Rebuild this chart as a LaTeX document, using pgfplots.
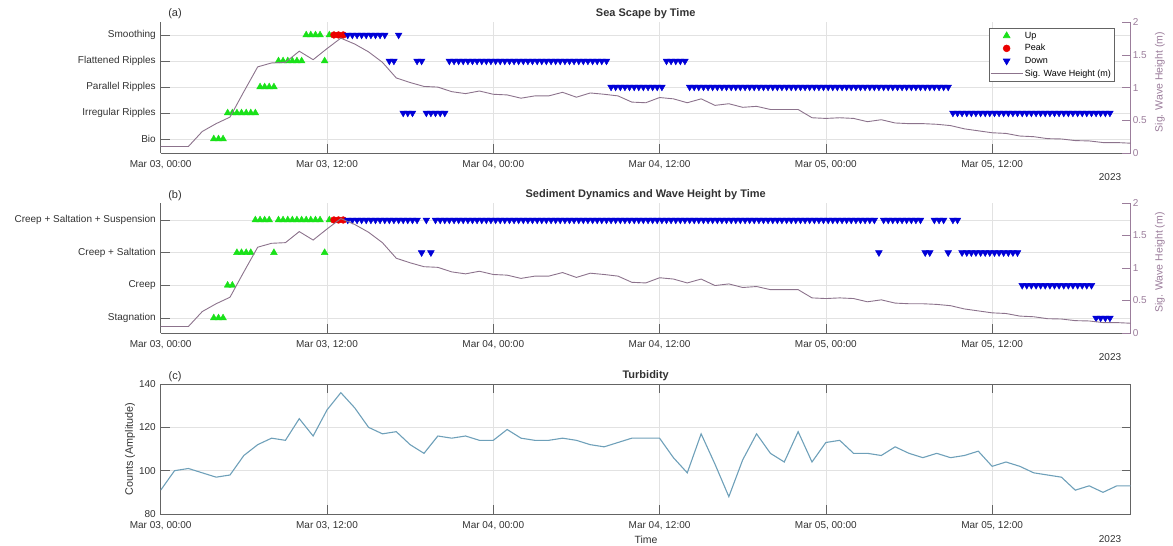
\documentclass[border=0pt]{standalone}
\usepackage{fontspec}
\setmainfont{Liberation Sans}
\usepackage{pgfplots}
\pgfplotsset{compat=1.18}
\definecolor{axgray}{RGB}{100,100,100}
\definecolor{txtgray}{RGB}{50,50,50}
\definecolor{gridgray}{RGB}{226,226,226}
\definecolor{wave}{RGB}{140,115,140}
\definecolor{waveax}{RGB}{155,125,155}
\definecolor{upgreen}{RGB}{25,225,25}
\definecolor{peakred}{RGB}{235,0,0}
\definecolor{downblue}{RGB}{0,0,215}
\definecolor{turb}{RGB}{110,160,185}
\pgfplotsset{
  base/.style={
    scale only axis, width=970pt, anchor=south west,
    xmin=0, xmax=70,
    tick align=inside, major tick length=9pt,
    every tick/.style={axgray, line width=0.6pt},
    axis line style={axgray, line width=0.7pt},
    tick label style={font=\fontsize{10}{12}\selectfont, text=txtgray},
    xticklabel style={yshift=-4pt},
    yticklabel style={xshift=-1.4pt},
    xtick={0,12,24,36,48,60},
    xticklabels={{Mar 03, 00:00},{Mar 03, 12:00},{Mar 04, 00:00},{Mar 04, 12:00},{Mar 05, 00:00},{Mar 05, 12:00}},
    grid style={gridgray, line width=0.6pt},
  },
  catax/.style={base,
    axis x line*=bottom, axis y line*=left,
    every outer x axis line/.append style={-}, every outer y axis line/.append style={-},
    xmajorgrids, ymajorgrids,
    legend image code/.code={\draw[mark repeat=2,mark phase=2,##1] plot coordinates {(0pt,0pt) (16pt,0pt) (32pt,0pt)};},
  },
  wavax/.style={base,
    axis x line=none, xtick=\empty, axis y line*=right,
    every outer y axis line/.append style={-},
    ymin=0, ymax=2, ytick={0,0.5,1,1.5,2}, yticklabels={0,0.5,1,1.5,2},
    y axis line style={waveax}, ytick style={waveax}, yticklabel style={text=waveax},
  },
  upm/.style={only marks, mark=triangle*, mark size=3.9pt, color=upgreen},
  peakm/.style={only marks, mark=*, mark size=3.4pt, color=peakred},
  downm/.style={only marks, mark=triangle*, mark size=3.9pt, color=downblue, mark options={rotate=180}},
}
\begin{document}
\begin{tikzpicture}
\useasboundingbox (0pt,0pt) rectangle (1173pt,546pt);
% ---------------- (a) ----------------
\begin{axis}[catax, at={(160.7pt,393pt)}, height=130.5pt,
  ymin=0.46, ymax=5.48, ytick={1,2,3,4,5},
  yticklabels={Bio,Irregular Ripples,Parallel Ripples,Flattened Ripples,Smoothing},
  legend style={at={(0.983,0.958)}, anchor=north east, draw=axgray, line width=0.6pt, fill=white,
    font=\fontsize{9}{10}\selectfont, inner sep=1.2pt, row sep=0pt,
    nodes={inner sep=1.8pt, text height=7pt, text depth=2pt}},
  legend cell align=left]
\addplot[upm] coordinates {(3.83,1)(4.17,1)(4.5,1)(4.83,2)(5.17,2)(5.5,2)(5.83,2)(6.17,2)(6.5,2)(6.83,2)(7.17,3)(7.5,3)(7.83,3)(8.17,3)(8.5,4)(8.83,4)(9.17,4)(9.5,4)(9.83,4)(10.17,4)(10.5,5)(10.83,5)(11.17,5)(11.5,5)(11.83,4)(12.17,5)};
\addlegendentry{Up}
\addplot[peakm] coordinates {(12.5,5)(12.83,5)(13.17,5)};
\addlegendentry{Peak}
\addplot[downm] coordinates {
(13.5,5)(13.83,5)(14.17,5)(14.5,5)(14.83,5)(15.17,5)(15.5,5)(15.83,5)(16.17,5)
(16.5,4)(16.83,4)(17.17,5)(17.5,2)(17.83,2)(18.17,2)(18.5,4)(18.83,4)
(19.17,2)(19.5,2)(19.83,2)(20.17,2)(20.5,2)
(20.83,4)(21.17,4)(21.5,4)(21.83,4)(22.17,4)(22.5,4)(22.83,4)(23.17,4)(23.5,4)(23.83,4)(24.17,4)(24.5,4)(24.83,4)(25.17,4)(25.5,4)(25.83,4)(26.17,4)(26.5,4)(26.83,4)(27.17,4)(27.5,4)(27.83,4)(28.17,4)(28.5,4)(28.83,4)(29.17,4)(29.5,4)(29.83,4)(30.17,4)(30.5,4)(30.83,4)(31.17,4)(31.5,4)(31.83,4)(32.17,4)
(32.5,3)(32.83,3)(33.17,3)(33.5,3)(33.83,3)(34.17,3)(34.5,3)(34.83,3)(35.17,3)(35.5,3)(35.83,3)(36.17,3)
(36.5,4)(36.83,4)(37.17,4)(37.5,4)(37.83,4)
(38.17,3)(38.5,3)(38.83,3)(39.17,3)(39.5,3)(39.83,3)(40.17,3)(40.5,3)(40.83,3)(41.17,3)(41.5,3)(41.83,3)(42.17,3)(42.5,3)(42.83,3)(43.17,3)(43.5,3)(43.83,3)(44.17,3)(44.5,3)(44.83,3)(45.17,3)(45.5,3)(45.83,3)(46.17,3)(46.5,3)(46.83,3)(47.17,3)(47.5,3)(47.83,3)(48.17,3)(48.5,3)(48.83,3)(49.17,3)(49.5,3)(49.83,3)(50.17,3)(50.5,3)(50.83,3)(51.17,3)(51.5,3)(51.83,3)(52.17,3)(52.5,3)(52.83,3)(53.17,3)(53.5,3)(53.83,3)(54.17,3)(54.5,3)(54.83,3)(55.17,3)(55.5,3)(55.83,3)(56.17,3)(56.5,3)(56.83,3)
(57.17,2)(57.5,2)(57.83,2)(58.17,2)(58.5,2)(58.83,2)(59.17,2)(59.5,2)(59.83,2)(60.17,2)(60.5,2)(60.83,2)(61.17,2)(61.5,2)(61.83,2)(62.17,2)(62.5,2)(62.83,2)(63.17,2)(63.5,2)(63.83,2)(64.17,2)(64.5,2)(64.83,2)(65.17,2)(65.5,2)(65.83,2)(66.17,2)(66.5,2)(66.83,2)(67.17,2)(67.5,2)(67.83,2)(68.17,2)(68.5,2)};
\addlegendentry{Down}
\addlegendimage{wave, line width=0.9pt}
\addlegendentry{Sig. Wave Height (m)}
\end{axis}
\begin{axis}[wavax, at={(160.7pt,393pt)}, height=130.5pt]
\addplot[wave, line width=0.9pt] coordinates {(0,0.10)(1,0.10)(2,0.10)(3,0.33)(4,0.45)(5,0.55)(6,0.94)(7,1.32)(8,1.38)(9,1.39)(10,1.56)(11,1.43)(12,1.60)(13,1.76)(14,1.67)(15,1.55)(16,1.39)(17,1.15)(18,1.08)(19,1.02)(20,1.01)(21,0.94)(22,0.91)(23,0.95)(24,0.90)(25,0.89)(26,0.84)(27,0.875)(28,0.875)(29,0.93)(30,0.855)(31,0.92)(32,0.90)(33,0.875)(34,0.78)(35,0.77)(36,0.85)(37,0.83)(38,0.77)(39,0.83)(40,0.73)(41,0.755)(42,0.70)(43,0.715)(44,0.667)(45,0.667)(46,0.667)(47,0.54)(48,0.53)(49,0.54)(50,0.53)(51,0.48)(52,0.51)(53,0.46)(54,0.45)(55,0.45)(56,0.44)(57,0.42)(58,0.37)(59,0.34)(60,0.31)(61,0.30)(62,0.26)(63,0.25)(64,0.22)(65,0.215)(66,0.19)(67,0.185)(68,0.16)(69,0.16)(70,0.15)};
\end{axis}
% ---------------- (b) ----------------
\begin{axis}[catax, at={(160.7pt,213pt)}, height=130pt,
  ymin=0.54, ymax=4.52, ytick={1,2,3,4},
  yticklabels={Stagnation,Creep,Creep + Saltation,Creep + Saltation + Suspension}]
\addplot[upm] coordinates {(3.83,1)(4.17,1)(4.5,1)(4.83,2)(5.17,2)(5.5,3)(5.83,3)(6.17,3)(6.5,3)(6.83,4)(7.17,4)(7.5,4)(7.83,4)(8.17,3)(8.5,4)(8.83,4)(9.17,4)(9.5,4)(9.83,4)(10.17,4)(10.5,4)(10.83,4)(11.17,4)(11.5,4)(11.83,3)(12.17,4)};
\addplot[peakm] coordinates {(12.5,4)(12.83,4)(13.17,4)};
\addplot[downm] coordinates {
(13.5,4)(13.83,4)(14.17,4)(14.5,4)(14.83,4)(15.17,4)(15.5,4)(15.83,4)(16.17,4)(16.5,4)(16.83,4)(17.17,4)(17.5,4)(17.83,4)(18.17,4)(18.5,4)
(18.83,3)(19.17,4)(19.5,3)
(19.83,4)(20.17,4)(20.5,4)(20.83,4)(21.17,4)(21.5,4)(21.83,4)(22.17,4)(22.5,4)(22.83,4)(23.17,4)(23.5,4)(23.83,4)(24.17,4)(24.5,4)(24.83,4)(25.17,4)(25.5,4)(25.83,4)(26.17,4)(26.5,4)(26.83,4)(27.17,4)(27.5,4)(27.83,4)(28.17,4)(28.5,4)(28.83,4)(29.17,4)(29.5,4)(29.83,4)(30.17,4)(30.5,4)(30.83,4)(31.17,4)(31.5,4)(31.83,4)(32.17,4)(32.5,4)(32.83,4)(33.17,4)(33.5,4)(33.83,4)(34.17,4)(34.5,4)(34.83,4)(35.17,4)(35.5,4)(35.83,4)(36.17,4)(36.5,4)(36.83,4)(37.17,4)(37.5,4)(37.83,4)(38.17,4)(38.5,4)(38.83,4)(39.17,4)(39.5,4)(39.83,4)(40.17,4)(40.5,4)(40.83,4)(41.17,4)(41.5,4)(41.83,4)(42.17,4)(42.5,4)(42.83,4)(43.17,4)(43.5,4)(43.83,4)(44.17,4)(44.5,4)(44.83,4)(45.17,4)(45.5,4)(45.83,4)(46.17,4)(46.5,4)(46.83,4)(47.17,4)(47.5,4)(47.83,4)(48.17,4)(48.5,4)(48.83,4)(49.17,4)(49.5,4)(49.83,4)(50.17,4)(50.5,4)(50.83,4)(51.17,4)(51.5,4)
(51.83,3)
(52.17,4)(52.5,4)(52.83,4)(53.17,4)(53.5,4)(53.83,4)(54.17,4)(54.5,4)(54.83,4)
(55.17,3)(55.5,3)(55.83,4)(56.17,4)(56.5,4)(56.83,3)(57.17,4)(57.5,4)
(57.83,3)(58.17,3)(58.5,3)(58.83,3)(59.17,3)(59.5,3)(59.83,3)(60.17,3)(60.5,3)(60.83,3)(61.17,3)(61.5,3)(61.83,3)
(62.17,2)(62.5,2)(62.83,2)(63.17,2)(63.5,2)(63.83,2)(64.17,2)(64.5,2)(64.83,2)(65.17,2)(65.5,2)(65.83,2)(66.17,2)(66.5,2)(66.83,2)(67.17,2)
(67.5,1)(67.83,1)(68.17,1)(68.5,1)};
\end{axis}
\begin{axis}[wavax, at={(160.7pt,213pt)}, height=130pt]
\addplot[wave, line width=0.9pt] coordinates {(0,0.10)(1,0.10)(2,0.10)(3,0.33)(4,0.45)(5,0.55)(6,0.94)(7,1.32)(8,1.38)(9,1.39)(10,1.56)(11,1.43)(12,1.60)(13,1.76)(14,1.67)(15,1.55)(16,1.39)(17,1.15)(18,1.08)(19,1.02)(20,1.01)(21,0.94)(22,0.91)(23,0.95)(24,0.90)(25,0.89)(26,0.84)(27,0.875)(28,0.875)(29,0.93)(30,0.855)(31,0.92)(32,0.90)(33,0.875)(34,0.78)(35,0.77)(36,0.85)(37,0.83)(38,0.77)(39,0.83)(40,0.73)(41,0.755)(42,0.70)(43,0.715)(44,0.667)(45,0.667)(46,0.667)(47,0.54)(48,0.53)(49,0.54)(50,0.53)(51,0.48)(52,0.51)(53,0.46)(54,0.45)(55,0.45)(56,0.44)(57,0.42)(58,0.37)(59,0.34)(60,0.31)(61,0.30)(62,0.26)(63,0.25)(64,0.22)(65,0.215)(66,0.19)(67,0.185)(68,0.16)(69,0.16)(70,0.15)};
\end{axis}
% ---------------- (c) ----------------
\begin{axis}[base, at={(160.7pt,32pt)}, height=130pt, tick pos=both,
  ymin=80, ymax=140, ytick={80,100,120,140}, yticklabels={80,100,120,140},
  xmajorgrids, ymajorgrids]
\addplot[turb, line width=1.1pt] coordinates {(0,91)(1,100)(2,101)(3,99)(4,97)(5,98)(6,107)(7,112)(8,115)(9,114)(10,124)(11,116)(12,128)(13,136)(14,129)(15,120)(16,117)(17,118)(18,112)(19,108)(20,116)(21,115)(22,116)(23,114)(24,114)(25,119)(26,115)(27,114)(28,114)(29,115)(30,114)(31,112)(32,111)(33,113)(34,115)(35,115)(36,115)(37,106)(38,99)(39,117)(40,103)(41,88)(42,105)(43,117)(44,108)(45,104)(46,118)(47,104)(48,113)(49,114)(50,108)(51,108)(52,107)(53,111)(54,108)(55,106)(56,108)(57,106)(58,107)(59,109)(60,102)(61,104)(62,102)(63,99)(64,98)(65,97)(66,91)(67,93)(68,90)(69,93)(70,93)};
\end{axis}
% ---------------- text ----------------
\begin{scope}[every node/.style={text=txtgray}]
\node[font=\fontsize{11}{13}\selectfont\bfseries] at (645.7pt,532pt) {Sea Scape by Time};
\node[font=\fontsize{11}{13}\selectfont\bfseries] at (645.7pt,351pt) {Sediment Dynamics and Wave Height by Time};
\node[font=\fontsize{11}{13}\selectfont\bfseries] at (645.7pt,170.3pt) {Turbidity};
\node[font=\fontsize{11}{13}\selectfont] at (175pt,532pt) {(a)};
\node[font=\fontsize{11}{13}\selectfont] at (175pt,350pt) {(b)};
\node[font=\fontsize{11}{13}\selectfont] at (175pt,169.3pt) {(c)};
\node[font=\fontsize{10}{12}\selectfont] at (1110pt,369pt) {2023};
\node[font=\fontsize{10}{12}\selectfont] at (1110pt,189pt) {2023};
\node[font=\fontsize{10}{12}\selectfont] at (1110pt,7pt) {2023};
\node[font=\fontsize{10.5}{12}\selectfont, rotate=90, text=waveax] at (1160pt,464pt) {Sig. Wave Height (m)};
\node[font=\fontsize{10.5}{12}\selectfont, rotate=90, text=waveax] at (1160pt,283.5pt) {Sig. Wave Height (m)};
\node[font=\fontsize{10.8}{12}\selectfont, rotate=90] at (130pt,97pt) {Counts (Amplitude)};
\node[font=\fontsize{10.5}{12}\selectfont] at (646pt,6pt) {Time};
\end{scope}
\end{tikzpicture}
\end{document}
